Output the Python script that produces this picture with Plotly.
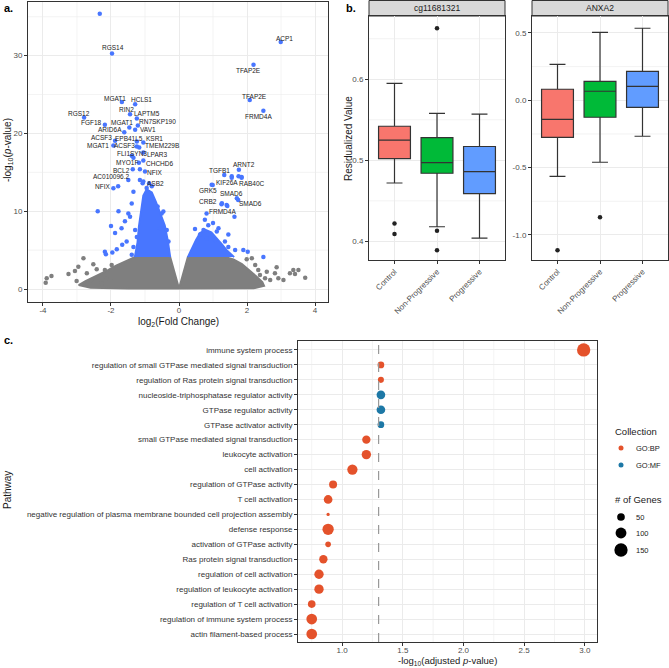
import math
import plotly.graph_objects as go

W, H = 669, 668
FONT = "Liberation Sans, Arial, sans-serif"
BLUE = "#4876FF"
GRAY = "#7F7F7F"
TICKC = "#4D4D4D"
LINEC = "#333333"
GRIDC = "#EBEBEB"

# ---------------- Panel a: volcano data ----------------
gray_left_x = [0, -0.26, -1.29, -1.6, -1.85, -2.1, -2.45, -2.75, -2.95, -2.6, -1.5, -0.3, 0]
gray_left_y = [0.05, 4.1, 4.1, 3.5, 3.0, 2.4, 1.7, 1.0, 0.5, 0.15, 0.05, 0.05, 0.05]
gray_right_x = [0, 0.26, 1.35, 1.6, 1.85, 2.05, 2.25, 2.45, 2.5, 2.2, 1.2, 0.3, 0]
gray_right_y = [0.05, 4.1, 4.1, 3.8, 3.2, 2.5, 1.7, 0.9, 0.4, 0.1, 0.05, 0.05, 0.05]
gray_pts_x = [-3.89, -3.75, -3.92, -3.25, -3.06, -2.81, -2.96, -2.52, -2.42, -2.71, -3.01, -2.18,
              -1.98, -2.13, -2.57, -2.27, -1.88,
              3.71, 3.36, 3.26, 3.41, 2.87, 2.82, 2.92, 3.07, 2.68, 2.53, 2.58, 2.33, 2.14, 1.99,
              2.38, 2.24, 3.51]
gray_pts_y = [1.37, 1.67, 0.81, 1.93, 2.32, 3.95, 2.87, 3.18, 2.53, 2.02, 1.03, 2.45,
              3.09, 1.37, 1.16, 0.73, 1.16,
              1.46, 2.45, 2.02, 1.93, 2.79, 2.02, 1.37, 1.16, 1.16, 1.37, 2.23, 2.45, 3.95, 3.82,
              1.80, 3.09, 2.45]

blue_left_x = [-0.26, -0.33, -0.42, -0.55, -0.68, -0.8, -0.95, -1.05, -1.12, -1.18, -1.22, -1.3]
blue_left_y = [4.1, 6.2, 8.2, 9.8, 11.2, 12.4, 12.8, 12.0, 10.0, 8.0, 6.0, 4.1]
blue_right_x = [0.26, 0.38, 0.5, 0.62, 0.78, 0.95, 1.1, 1.25, 1.4, 1.55, 1.62]
blue_right_y = [4.1, 5.3, 6.3, 7.2, 7.6, 7.3, 6.6, 5.8, 5.0, 4.4, 4.1]
blue_pts_x = [-2.39, -1.78, -2.0, -1.88, -2.18, -1.69, -1.59, -1.49, -1.39, -1.54, -1.67, -1.83,
              -1.96, -1.34, -1.44, -1.29, -0.51, -0.56, -0.63, -1.15, -1.07, -0.95, -0.80, -1.0,
              -0.88, -0.46, -0.36, -0.31, -1.24, -1.34, -1.39, -2.15, -1.79, -2.33,
              0.47, 0.96, 1.25, 1.40, 1.63, 1.45, 1.65, 1.89, 2.02, 2.48, 1.55, 1.75, 1.84,
              0.81, 0.76, 0.86, 1.0, 1.11, 1.16, 0.62, 0.72, 1.35, 1.45, 1.06, 0.81]
blue_pts_y = [10.0, 10.0, 8.1, 7.2, 4.8, 7.8, 8.7, 9.7, 11.0, 6.1, 5.7, 5.1,
              4.7, 12.5, 9.3, 7.6, 9.7, 7.8, 10.6, 14.0, 13.6, 13.0, 13.2, 15.1,
              13.6, 9.95, 7.6, 6.1, 6.7, 5.4, 4.4, 4.47, 13.2, 35.4,
              7.7, 13.4, 10.9, 10.8, 9.3, 7.0, 5.0, 5.0, 4.8, 4.1, 14.5, 14.5, 14.4,
              9.7, 8.9, 8.2, 8.5, 7.4, 7.8, 7.0, 7.6, 6.1, 5.4, 6.3, 6.5]

gene_names = ["RGS14", "MGAT1", "HCLS1", "RIN2", "RGS12", "LAPTM5", "FGF18", "MGAT1", "RN7SKP190",
              "ARID6A", "VAV1", "ACSF3", "EPB41L5", "KSR1", "MGAT1", "ACSF3", "TMEM229B", "FLI1",
              "SYN3", "LPAR3", "MYO1F", "CHCHD6", "BCL2", "NFIX", "AC010096.2", "ASB2", "NFIX",
              "ACP1", "TFAP2E", "TFAP2E", "FRMD4A", "ARNT2", "TGFB1", "KIF26A", "RAB40C", "GRK5",
              "SMAD6", "SMAD6", "CRB2", "FRMD4A"]
gene_lfc = [-1.97, -1.68, -1.29, -1.44, -2.79, -1.24, -2.18, -1.46, -1.21,
            -1.61, -1.29, -1.88, -1.24, -1.05, -1.93, -1.24, -1.17, -1.39,
            -1.34, -1.05, -1.18, -1.05, -1.36, -1.15, -1.49, -1.05, -1.93,
            2.99, 2.19, 2.08, 2.48, 1.76, 1.33, 1.55, 1.84, 0.99,
            1.70, 1.74, 1.26, 1.42]
gene_nlp = [30.28, 24.03, 23.77, 22.48, 22.05, 21.92, 21.11, 20.76, 21.02,
            20.17, 20.46, 19.05, 18.96, 18.83, 18.44, 18.31, 18.19, 17.12,
            16.86, 17.54, 16.22, 16.51, 15.41, 15.41, 14.03, 13.81, 12.96,
            31.75, 28.83, 24.29, 22.91, 15.32, 14.67, 14.32, 14.32, 13.38,
            11.67, 11.45, 11.03, 10.68]
# label offsets in pixels (style, not data)
label_shift = [(1, 6), (-7, 4), (6, 5), (-4, 5), (-5, 4), (10, 5), (-13, 2), (-7, 5), (20, 4),
               (-14, 3), (13, 0), (-14, 3), (-8, 3), (11, 4), (-15, 0), (-12, 1), (23, 2), (-8, 2),
               (5, 4), (14, -2), (-12, 0), (16, -3), (-11, -1), (15, -3), (-17, 3), (12, -2), (-11, 2),
               (4, 4), (-5, -6), (5, 4), (-5, -6), (5, 5), (-5, 4), (-5, -5), (10, -6), (-5, -6),
               (-5, 5), (12, -4), (-14, 2), (-5, -6)]
volc_xticks = [-4, -2, 0, 2, 4]
volc_xtext = ["-4", "-2", "0", "2", "4"]
volc_yticks = [0, 10, 20, 30]
volc_ytext = ["0", "10", "20", "30"]

# ---------------- Panel b: box plots ----------------
groups = ["Control", "Non-Progressive", "Progressive"]
box_colors = ["#F8766D", "#00BA38", "#619CFF"]
cg_q1 = [0.502, 0.484, 0.459]
cg_med = [0.525, 0.497, 0.486]
cg_q3 = [0.542, 0.528, 0.517]
cg_lo = [0.472, 0.418, 0.404]
cg_hi = [0.595, 0.558, 0.557]
cg_out = [[0.422, 0.409], [0.663, 0.413, 0.389], []]
cg_ticks = [0.4, 0.5, 0.6]
cg_text = ["0.4", "0.5", "0.6"]
ax_q1 = [-0.275, -0.126, -0.052]
ax_med = [-0.141, 0.067, 0.104]
ax_q3 = [0.082, 0.141, 0.215]
ax_lo = [-0.565, -0.46, -0.267]
ax_hi = [0.267, 0.505, 0.535]
ax_out = [[-1.114], [-0.869], []]
ax_ticks = [-1.0, -0.5, 0.0, 0.5]
ax_text = ["-1.0", "-0.5", "0.0", "0.5"]

# ---------------- Panel c: enrichment ----------------
pathways = ["immune system process",
            "regulation of small GTPase mediated signal transduction",
            "regulation of Ras protein signal transduction",
            "nucleoside-triphosphatase regulator activity",
            "GTPase regulator activity",
            "GTPase activator activity",
            "small GTPase mediated signal transduction",
            "leukocyte activation",
            "cell activation",
            "regulation of GTPase activity",
            "T cell activation",
            "negative regulation of plasma membrane bounded cell projection assembly",
            "defense response",
            "activation of GTPase activity",
            "Ras protein signal transduction",
            "regulation of cell activation",
            "regulation of leukocyte activation",
            "regulation of T cell activation",
            "regulation of immune system process",
            "actin filament-based process"]
neglog_padj = [2.99, 1.32, 1.32, 1.32, 1.32, 1.32, 1.20, 1.20, 1.085, 0.926,
               0.885, 0.885, 0.885, 0.885, 0.846, 0.81, 0.81, 0.75, 0.75, 0.75]
collection = ["GO:BP", "GO:BP", "GO:BP", "GO:MF", "GO:MF", "GO:MF", "GO:BP", "GO:BP", "GO:BP", "GO:BP",
              "GO:BP", "GO:BP", "GO:BP", "GO:BP", "GO:BP", "GO:BP", "GO:BP", "GO:BP", "GO:BP", "GO:BP"]
n_genes = [150, 38, 31, 64, 64, 38, 59, 74, 90, 54, 64, 9, 109, 27, 59, 74, 74, 50, 97, 97]
coll_colors = {"GO:BP": "#E4522B", "GO:MF": "#1D78A6"}
legend_sizes = [50, 100, 150]
legend_colls = ["GO:BP", "GO:MF"]
c_xticks = [1.0, 1.5, 2.0, 2.5, 3.0]
c_xtext = ["1.0", "1.5", "2.0", "2.5", "3.0"]
alpha_cut = 0.05

SIZEREF = 1.7

def px_x(p):
    return p / W

def px_y(p):
    return 1 - p / H

def bubble_d(n):
    # same rule plotly uses for sizemode='area'
    return math.sqrt(2.0 * n / SIZEREF)

fig = go.Figure()

# --- volcano ---
fig.add_trace(go.Scatter(x=gray_left_x, y=gray_left_y, fill="toself", mode="lines",
                         line=dict(color=GRAY, width=2), fillcolor=GRAY, xaxis="x", yaxis="y"))
fig.add_trace(go.Scatter(x=gray_right_x, y=gray_right_y, fill="toself", mode="lines",
                         line=dict(color=GRAY, width=2), fillcolor=GRAY, xaxis="x", yaxis="y"))
fig.add_trace(go.Scatter(x=gray_pts_x, y=gray_pts_y, mode="markers",
                         marker=dict(color=GRAY, size=4.5), xaxis="x", yaxis="y"))
fig.add_trace(go.Scatter(x=blue_left_x, y=blue_left_y, fill="toself", mode="lines",
                         line=dict(color=BLUE, width=2), fillcolor=BLUE, xaxis="x", yaxis="y"))
fig.add_trace(go.Scatter(x=blue_right_x, y=blue_right_y, fill="toself", mode="lines",
                         line=dict(color=BLUE, width=2), fillcolor=BLUE, xaxis="x", yaxis="y"))
fig.add_trace(go.Scatter(x=blue_pts_x, y=blue_pts_y, mode="markers",
                         marker=dict(color=BLUE, size=4.5), xaxis="x", yaxis="y"))
fig.add_trace(go.Scatter(x=gene_lfc, y=gene_nlp, mode="markers",
                         marker=dict(color=BLUE, size=4.5), xaxis="x", yaxis="y"))

annotations = []
for name, gx, gy, (dx, dy) in zip(gene_names, gene_lfc, gene_nlp, label_shift):
    annotations.append(dict(x=gx, y=gy, xref="x", yref="y", text=name, showarrow=False,
                            xshift=dx, yshift=dy, font=dict(size=6.5, color="#222222", family=FONT)))

# --- boxes ---
def add_boxes(xa, ya, q1, med, q3, lo, hi, outs):
    for g, c, a, m, b, l, h, o in zip(groups, box_colors, q1, med, q3, lo, hi, outs):
        fig.add_trace(go.Box(x=[g], q1=[a], median=[m], q3=[b], lowerfence=[l], upperfence=[h],
                             fillcolor=c, line=dict(color=LINEC, width=1.2), width=0.75,
                             boxpoints=False, xaxis=xa, yaxis=ya))
        if o:
            fig.add_trace(go.Scatter(x=[g] * len(o), y=o, mode="markers",
                                     marker=dict(color="#222222", size=4.5), xaxis=xa, yaxis=ya))

add_boxes("x2", "y2", cg_q1, cg_med, cg_q3, cg_lo, cg_hi, cg_out)
add_boxes("x3", "y3", ax_q1, ax_med, ax_q3, ax_lo, ax_hi, ax_out)

# --- enrichment dots ---
for coll in legend_colls:
    idx = [i for i, c in enumerate(collection) if c == coll]
    fig.add_trace(go.Scatter(x=[neglog_padj[i] for i in idx], y=[pathways[i] for i in idx],
                             mode="markers",
                             marker=dict(color=coll_colors[coll], size=[n_genes[i] for i in idx],
                                         sizemode="area", sizeref=SIZEREF, opacity=1,
                                         line=dict(width=0)),
                             xaxis="x4", yaxis="y4"))

shapes = []

# --- legend keys drawn as paper circles ---
leg_x = 621
coll_key_y = [448, 465]
size_key_y = [517, 533, 550]
def circle(cx, cy, d, color):
    shapes.append(dict(type="circle", xref="paper", yref="paper",
                       x0=px_x(cx - d / 2), x1=px_x(cx + d / 2),
                       y0=px_y(cy + d / 2), y1=px_y(cy - d / 2),
                       fillcolor=color, line=dict(width=0)))
for coll, yy in zip(legend_colls, coll_key_y):
    circle(leg_x, yy, 5, coll_colors[coll])
for s, yy in zip(legend_sizes, size_key_y):
    circle(leg_x, yy, bubble_d(s), "black")

def lab(text, x, y, size=8, anchor="left", angle=0, color="#1A1A1A", bold=False):
    t = "<b>%s</b>" % text if bold else text
    annotations.append(dict(x=px_x(x), y=px_y(y), xref="paper", yref="paper", text=t,
                            showarrow=False, xanchor=anchor, yanchor="middle", textangle=angle,
                            font=dict(size=size, color=color, family=FONT)))

lab("Collection", 613, 431, 9.5)
for coll, yy in zip(legend_colls, coll_key_y):
    lab(coll, 634, yy, 7.5)
lab("# of Genes", 612.5, 499, 9.5)
for s, yy in zip(legend_sizes, size_key_y):
    lab(str(s), 634, yy, 7.5)

lab("a.", 2, 8, 11, bold=True, color="black")
lab("b.", 344, 8, 11, bold=True, color="black")
lab("c.", 2, 340, 11, bold=True, color="black")
lab("log<sub>2</sub>(Fold Change)", 178, 322, 10, anchor="center")
lab("-log<sub>10</sub>(<i>p</i>-value)", 8, 150, 10, anchor="center", angle=-90)
lab("Residualized Value", 348, 138, 10, anchor="center", angle=-90)
lab("-log<sub>10</sub>(adjusted <i>p</i>-value)", 447, 661, 9.5, anchor="center")
lab("Pathway", 8, 490, 10, anchor="center", angle=-90)

# minor gridlines (midpoints between major ticks), drawn as shapes
def minor_grid(xa, ya, vals, lo, hi, vertical):
    step = vals[1] - vals[0]
    v = vals[0] - step / 2
    while v < hi:
        if v > lo:
            if vertical:
                shapes.append(dict(type="line", xref=xa, yref=ya + " domain", x0=v, x1=v, y0=0, y1=1,
                                   line=dict(color=GRIDC, width=0.6), layer="below"))
            else:
                shapes.append(dict(type="line", xref=xa + " domain", yref=ya, x0=0, x1=1, y0=v, y1=v,
                                   line=dict(color=GRIDC, width=0.6), layer="below"))
        v += step

minor_grid("x", "y", volc_xticks, -4.44, 4.38, True)
minor_grid("x", "y", volc_yticks, -1.67, 36.9, False)
minor_grid("x2", "y2", cg_ticks, 0.377, 0.678, False)
minor_grid("x3", "y3", ax_ticks, -1.186, 0.626, False)
minor_grid("x4", "y4", c_xticks, 0.637, 3.10, True)

# strips
for xa, title in (("x2", "cg11681321"), ("x3", "ANXA2")):
    shapes.append(dict(type="rect", xref=xa + " domain", yref="paper", x0=0, x1=1,
                       y0=px_y(16), y1=px_y(0.5), fillcolor="#D9D9D9",
                       line=dict(color=LINEC, width=1), layer="below"))
    annotations.append(dict(x=0.5, y=px_y(8.5), xref=xa + " domain", yref="paper", text=title,
                            showarrow=False, xanchor="center", yanchor="middle",
                            font=dict(size=8.5, color="#1A1A1A", family=FONT)))

shapes.append(dict(type="line", xref="x4", yref="y4 domain",
                   x0=-math.log10(alpha_cut), x1=-math.log10(alpha_cut), y0=0, y1=1,
                   line=dict(color="#999999", width=1.2, dash="dash"), layer="above"))

def axstyle(**kw):
    d = dict(showline=True, mirror=True, linecolor=LINEC, linewidth=1, ticks="outside", ticklen=3,
             tickcolor=LINEC, tickfont=dict(size=8, color=TICKC, family=FONT), showgrid=True,
             gridcolor=GRIDC, gridwidth=1, zeroline=False)
    d.update(kw)
    return d

fig.update_layout(
    width=W, height=H, margin=dict(l=0, r=0, t=0, b=0), paper_bgcolor="white",
    plot_bgcolor="white", showlegend=False, font=dict(family=FONT),
    xaxis=axstyle(domain=[px_x(28), px_x(328)], range=[-4.44, 4.38], tickmode="array",
                  tickvals=volc_xticks, ticktext=volc_xtext, anchor="y", ticklabelstandoff=-3),
    yaxis=axstyle(domain=[px_y(302), px_y(2)], range=[-1.67, 36.9], tickmode="array",
                  tickvals=volc_yticks, ticktext=volc_ytext, anchor="x"),
    xaxis2=axstyle(domain=[px_x(369), px_x(505)], type="category", categoryorder="array",
                   categoryarray=groups, range=[-0.6, 2.6], tickangle=-45, anchor="y2"),
    yaxis2=axstyle(domain=[px_y(260), px_y(16)], range=[0.377, 0.678], tickmode="array",
                   tickvals=cg_ticks, ticktext=cg_text, anchor="x2"),
    xaxis3=axstyle(domain=[px_x(532), px_x(668)], type="category", categoryorder="array",
                   categoryarray=groups, range=[-0.6, 2.6], tickangle=-45, anchor="y3"),
    yaxis3=axstyle(domain=[px_y(260), px_y(16)], range=[-1.186, 0.626], tickmode="array",
                   tickvals=ax_ticks, ticktext=ax_text, anchor="x3"),
    xaxis4=axstyle(domain=[px_x(298), px_x(597)], range=[0.637, 3.10], tickmode="array",
                   tickvals=c_xticks, ticktext=c_xtext, anchor="y4", ticklabelstandoff=-3),
    yaxis4=axstyle(domain=[px_y(642), px_y(341)], type="category", categoryorder="array",
                   categoryarray=pathways, range=[19.535, -0.6], anchor="x4",
                   tickfont=dict(size=8, color="#333333", family=FONT)),
    annotations=annotations, shapes=shapes,
)

fig.write_html("out.html", config={"displayModeBar": False},
               post_script="document.body.style.margin='0px';")
